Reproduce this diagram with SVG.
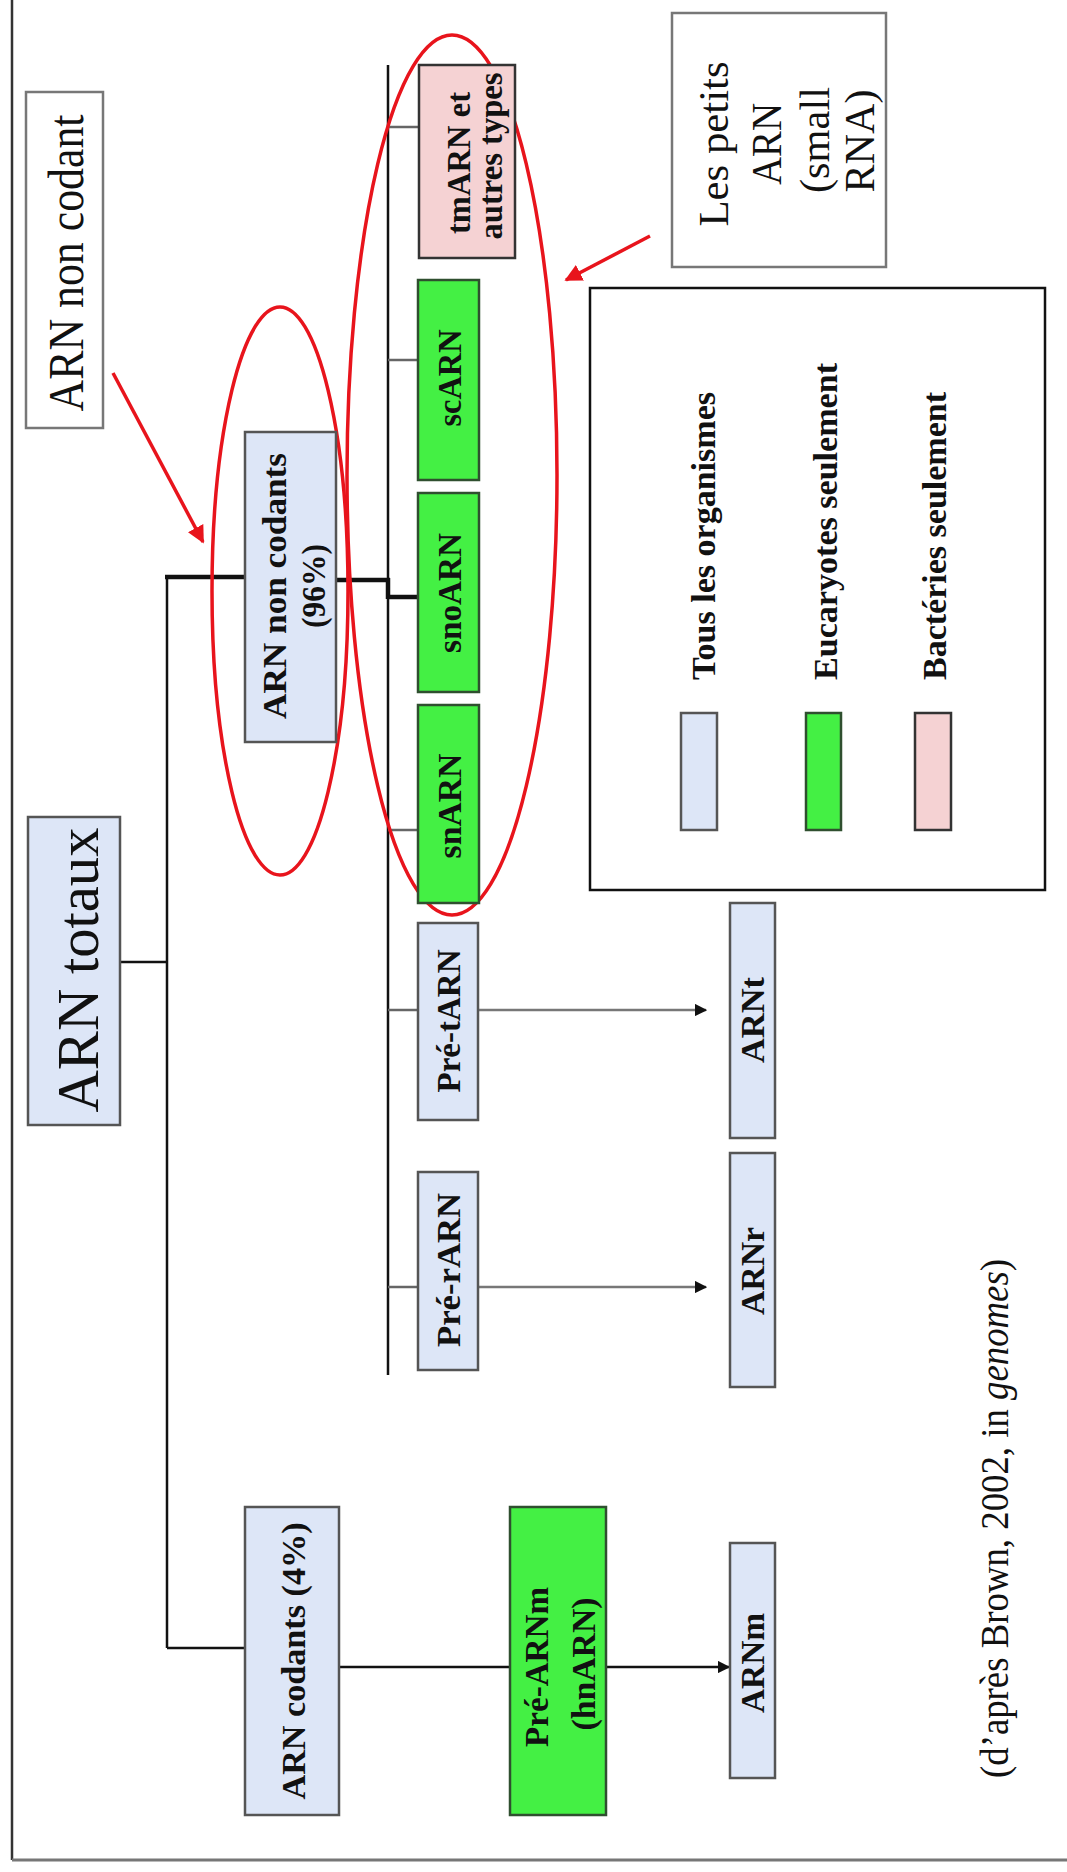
<svg xmlns="http://www.w3.org/2000/svg" width="1067" height="1872" viewBox="0 0 1067 1872">
  <defs>
    <marker id="arrowBlack" viewBox="0 0 10 10" refX="9" refY="5" markerWidth="5" markerHeight="5" orient="auto" markerUnits="strokeWidth">
      <path d="M0,0 L10,5 L0,10 z" fill="#111"/>
    </marker>
    <marker id="arrowRed" viewBox="0 0 10 10" refX="9" refY="5" markerWidth="5" markerHeight="5" orient="auto" markerUnits="strokeWidth">
      <path d="M0,0 L10,5 L0,10 z" fill="#e8141c"/>
    </marker>
    <style>
      .blue { fill: #dde6f7; stroke: #555; stroke-width: 2.5; }
      .green { fill: #44f044; stroke: #2f4f2f; stroke-width: 2.5; }
      .pink { fill: #f5d2d3; stroke: #333; stroke-width: 2.5; }
      .note { fill: #fff; stroke: #777; stroke-width: 2.5; }
      .legend { fill: #fff; stroke: #111; stroke-width: 2.5; }
      .lbl { font-family: "Liberation Serif", "Times New Roman", serif; font-weight: bold; font-size: 34px; fill: #111; }
      .big { font-family: "Liberation Serif", "Times New Roman", serif; fill: #111; }
      .ln { stroke: #111; stroke-width: 2.5; fill: none; }
      .thick { stroke: #111; stroke-width: 4.5; fill: none; }
      .tick { stroke: #666; stroke-width: 2.5; fill: none; }
      .gray { stroke: #777; stroke-width: 2.5; fill: none; }
      .red { stroke: #e8141c; stroke-width: 3.5; fill: none; }
    </style>
  </defs>

  <rect x="0" y="0" width="1067" height="1872" fill="#fff"/>

  <!-- page frame -->
  <g id="frame">
    <line x1="12" y1="0" x2="12" y2="1860" stroke="#333" stroke-width="2.5"/>
    <line x1="12" y1="1860" x2="1067" y2="1860" stroke="#777" stroke-width="3"/>
  </g>

  <!-- connectors -->
  <g id="connectors">
    <!-- trunk from ARN totaux -->
    <line class="ln" x1="120" y1="962" x2="167" y2="962"/>
    <line class="ln" x1="167" y1="577" x2="167" y2="1648"/>
    <line class="thick" x1="165" y1="577" x2="245" y2="577"/>
    <line class="ln" x1="167" y1="1648" x2="245" y2="1648"/>
    <!-- non-coding bus -->
    <line class="thick" x1="336" y1="580" x2="390" y2="580"/>
    <line class="ln" x1="388" y1="65" x2="388" y2="1375"/>
    <line class="thick" x1="388" y1="578" x2="388" y2="599"/>
    <line class="tick" x1="388" y1="127" x2="420" y2="127"/>
    <line class="tick" x1="388" y1="360" x2="418" y2="360"/>
    <line class="thick" x1="388" y1="597" x2="418" y2="597"/>
    <line class="tick" x1="388" y1="830" x2="418" y2="830"/>
    <line class="tick" x1="388" y1="1010" x2="418" y2="1010"/>
    <line class="tick" x1="388" y1="1287" x2="418" y2="1287"/>
    <!-- maturation arrows -->
    <line class="gray" x1="478" y1="1010" x2="706" y2="1010" marker-end="url(#arrowBlack)"/>
    <line class="gray" x1="478" y1="1287" x2="706" y2="1287" marker-end="url(#arrowBlack)"/>
    <!-- coding branch -->
    <line class="ln" x1="339" y1="1667" x2="510" y2="1667"/>
    <line class="ln" x1="606" y1="1667" x2="729" y2="1667" marker-end="url(#arrowBlack)"/>
  </g>

  <!-- red highlights -->
  <g id="highlights">
    <ellipse class="red" cx="280" cy="591" rx="68" ry="284"/>
    <ellipse class="red" cx="452" cy="475" rx="105" ry="440"/>
    <line class="red" x1="113" y1="373" x2="203" y2="542" marker-end="url(#arrowRed)"/>
    <line class="red" x1="650" y1="236" x2="566" y2="280" marker-end="url(#arrowRed)"/>
  </g>

  <!-- annotation: ARN non codant -->
  <g id="note-non-codant">
    <rect class="note" x="26" y="92" width="77" height="336"/>
    <text class="big" font-size="50" transform="translate(83,263) rotate(-90)" text-anchor="middle" textLength="297" lengthAdjust="spacingAndGlyphs">ARN non codant</text>
  </g>

  <!-- ARN totaux -->
  <g id="arn-totaux">
    <rect class="blue" x="28" y="817" width="92" height="308"/>
    <text class="big" font-size="60" transform="translate(98,970) rotate(-90)" text-anchor="middle" textLength="285" lengthAdjust="spacingAndGlyphs">ARN totaux</text>
  </g>

  <!-- ARN non codants (96%) -->
  <g id="arn-non-codants">
    <rect class="blue" x="245" y="432" width="91" height="310"/>
    <text class="lbl" font-size="36" transform="translate(286,586) rotate(-90)" text-anchor="middle" textLength="266" lengthAdjust="spacingAndGlyphs">ARN non codants</text>
    <text class="lbl" font-size="36" transform="translate(325,586) rotate(-90)" text-anchor="middle" textLength="84" lengthAdjust="spacingAndGlyphs">(96%)</text>
  </g>

  <!-- ARN codants (4%) -->
  <g id="arn-codants">
    <rect class="blue" x="245" y="1507" width="94" height="308"/>
    <text class="lbl" transform="translate(305,1661) rotate(-90)" text-anchor="middle" textLength="277" lengthAdjust="spacingAndGlyphs">ARN codants (4%)</text>
  </g>

  <!-- small RNA column -->
  <g id="tmarn">
    <rect class="pink" x="419" y="65" width="96" height="193"/>
    <text class="lbl" font-size="31" transform="translate(470,163) rotate(-90)" text-anchor="middle" textLength="142" lengthAdjust="spacingAndGlyphs">tmARN et</text>
    <text class="lbl" font-size="31" transform="translate(502,156) rotate(-90)" text-anchor="middle" textLength="167" lengthAdjust="spacingAndGlyphs">autres types</text>
  </g>
  <g id="scarn">
    <rect class="green" x="418" y="280" width="61" height="200"/>
    <text class="lbl" transform="translate(461,378) rotate(-90)" text-anchor="middle" textLength="97" lengthAdjust="spacingAndGlyphs">scARN</text>
  </g>
  <g id="snoarn">
    <rect class="green" x="418" y="493" width="61" height="199"/>
    <text class="lbl" transform="translate(461,593) rotate(-90)" text-anchor="middle" textLength="120" lengthAdjust="spacingAndGlyphs">snoARN</text>
  </g>
  <g id="snarn">
    <rect class="green" x="418" y="705" width="61" height="198"/>
    <text class="lbl" transform="translate(461,806) rotate(-90)" text-anchor="middle" textLength="105" lengthAdjust="spacingAndGlyphs">snARN</text>
  </g>
  <g id="pre-tarn">
    <rect class="blue" x="418" y="923" width="60" height="197"/>
    <text class="lbl" transform="translate(460,1021) rotate(-90)" text-anchor="middle" textLength="143" lengthAdjust="spacingAndGlyphs">Pré-tARN</text>
  </g>
  <g id="pre-rarn">
    <rect class="blue" x="418" y="1172" width="60" height="198"/>
    <text class="lbl" transform="translate(460,1270) rotate(-90)" text-anchor="middle" textLength="154" lengthAdjust="spacingAndGlyphs">Pré-rARN</text>
  </g>

  <!-- mature products -->
  <g id="arnt">
    <rect class="blue" x="730" y="903" width="45" height="235"/>
    <text class="lbl" transform="translate(764,1020) rotate(-90)" text-anchor="middle" textLength="86" lengthAdjust="spacingAndGlyphs">ARNt</text>
  </g>
  <g id="arnr">
    <rect class="blue" x="730" y="1153" width="45" height="234"/>
    <text class="lbl" transform="translate(764,1271) rotate(-90)" text-anchor="middle" textLength="88" lengthAdjust="spacingAndGlyphs">ARNr</text>
  </g>
  <g id="pre-arnm">
    <rect class="green" x="510" y="1507" width="96" height="308"/>
    <text class="lbl" transform="translate(548,1667) rotate(-90)" text-anchor="middle" textLength="160" lengthAdjust="spacingAndGlyphs">Pré-ARNm</text>
    <text class="lbl" transform="translate(595,1664) rotate(-90)" text-anchor="middle" textLength="133" lengthAdjust="spacingAndGlyphs">(hnARN)</text>
  </g>
  <g id="arnm">
    <rect class="blue" x="730" y="1543" width="45" height="235"/>
    <text class="lbl" transform="translate(764,1663) rotate(-90)" text-anchor="middle" textLength="100" lengthAdjust="spacingAndGlyphs">ARNm</text>
  </g>

  <!-- annotation: Les petits ARN -->
  <g id="note-petits">
    <rect class="note" x="672" y="13" width="214" height="254"/>
    <text class="big" font-size="42" transform="translate(728,144) rotate(-90)" text-anchor="middle" textLength="165" lengthAdjust="spacingAndGlyphs">Les petits</text>
    <text class="big" font-size="42" transform="translate(781,144) rotate(-90)" text-anchor="middle" textLength="82" lengthAdjust="spacingAndGlyphs">ARN</text>
    <text class="big" font-size="42" transform="translate(829,140) rotate(-90)" text-anchor="middle" textLength="106" lengthAdjust="spacingAndGlyphs">(small</text>
    <text class="big" font-size="42" transform="translate(874,141) rotate(-90)" text-anchor="middle" textLength="103" lengthAdjust="spacingAndGlyphs">RNA)</text>
  </g>

  <!-- legend -->
  <g id="legend">
    <rect class="legend" x="590" y="288" width="455" height="602"/>
    <rect class="blue" x="681" y="713" width="36" height="117" stroke="#444"/>
    <rect class="green" x="806" y="713" width="35" height="117" stroke="#222"/>
    <rect class="pink" x="915" y="713" width="36" height="117" stroke="#222"/>
    <text class="lbl" transform="translate(715,680) rotate(-90)" textLength="288" lengthAdjust="spacingAndGlyphs">Tous les organismes</text>
    <text class="lbl" transform="translate(837,680) rotate(-90)" textLength="317" lengthAdjust="spacingAndGlyphs">Eucaryotes seulement</text>
    <text class="lbl" transform="translate(946,680) rotate(-90)" textLength="288" lengthAdjust="spacingAndGlyphs">Bactéries seulement</text>
  </g>

  <!-- source -->
  <g id="source">
    <text class="big" font-size="40" transform="translate(1008,1778) rotate(-90)" textLength="519" lengthAdjust="spacingAndGlyphs">(d’après Brown, 2002, in <tspan font-style="italic">genomes</tspan>)</text>
  </g>
</svg>
